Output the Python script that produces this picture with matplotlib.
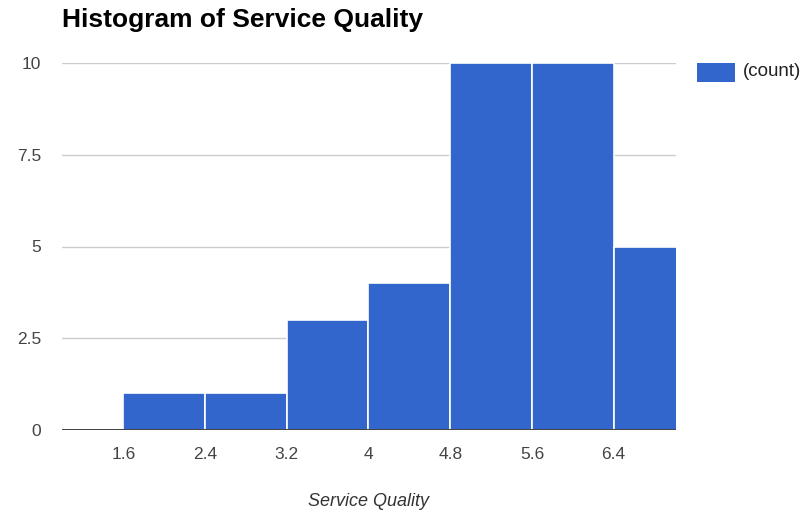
import matplotlib
matplotlib.use("Agg")
import matplotlib.pyplot as plt
from matplotlib.patches import Rectangle

plt.rcParams['font.family'] = ['Liberation Sans', 'DejaVu Sans']

# histogram bins (left edges) and counts
bin_edges = [1.6, 2.4, 3.2, 4.0, 4.8, 5.6, 6.4]
bin_width = 0.8
counts = [1, 1, 3, 4, 10, 10, 5]
x_ticks = [1.6, 2.4, 3.2, 4.0, 4.8, 5.6, 6.4]
x_tick_labels = ['1.6', '2.4', '3.2', '4', '4.8', '5.6', '6.4']
y_ticks = [0, 2.5, 5, 7.5, 10]
y_tick_labels = ['0', '2.5', '5', '7.5', '10']

blue = '#3366cc'

fig = plt.figure(figsize=(8.09, 5.17), dpi=100)
ax = fig.add_axes([62 / 809, 87 / 517, 614 / 809, 367 / 517])

ax.bar(bin_edges, counts, width=bin_width, align='edge', color=blue,
       edgecolor='white', linewidth=1.2, zorder=3)

ax.set_xlim(1.0, 7.01)
ax.set_ylim(0, 10)
ax.set_yticks(y_ticks)
ax.set_yticklabels(y_tick_labels)
ax.set_xticks(x_ticks)
ax.set_xticklabels(x_tick_labels)

ax.grid(axis='y', color='#cccccc', linewidth=1, zorder=0)
ax.axhline(0, color='#333333', linewidth=1.3, zorder=4)
for s in ax.spines.values():
    s.set_visible(False)
ax.tick_params(axis='both', length=0, labelsize=12.5, colors='#444444')
ax.tick_params(axis='y', pad=15)
ax.tick_params(axis='x', pad=12)

fig.text(369 / 809, 1 - 502 / 517, 'Service Quality', fontsize=13,
         style='italic', color='#333333', ha='center', va='center')

fig.text(62 / 809, 1 - 20 / 517, 'Histogram of Service Quality',
         fontsize=19, fontweight='bold', va='center', ha='left', color='black')

# legend box drawn on the figure
fig.patches.append(Rectangle((697 / 809, 1 - 82 / 517), 38 / 809, 19 / 517,
                             transform=fig.transFigure, facecolor=blue,
                             edgecolor='none'))
fig.text(743 / 809, 1 - 72 / 517, '(count)', fontsize=13.5,
         color='#222222', va='center', ha='left')

fig.savefig('out.png', dpi=100)
